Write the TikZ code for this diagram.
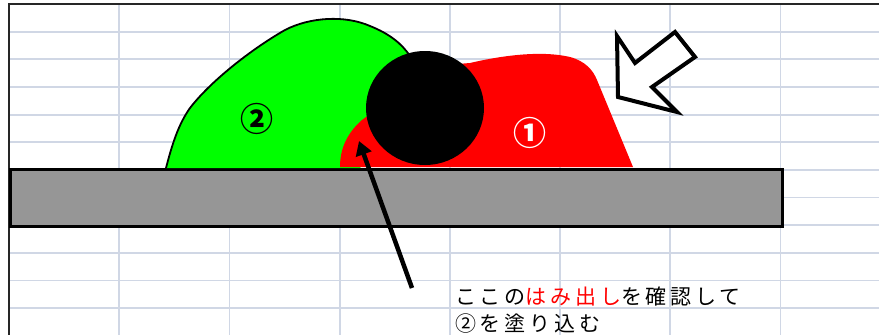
\documentclass[tikz,border=0pt]{standalone}
\usepackage{fontspec}
\newfontfamily\jp[LetterSpace=18]{Noto Sans CJK JP}
\newfontfamily\jpnum{Noto Sans CJK JP}
\usetikzlibrary{arrows.meta}
\definecolor{gridc}{RGB}{208,215,229}
\definecolor{blobgreen}{RGB}{0,255,0}
\definecolor{blobred}{RGB}{255,0,0}
\definecolor{basegray}{RGB}{150,150,150}
\tikzset{
  gridline/.style={draw=gridc, line width=1.8pt},
  frame/.style={draw=black!85, line width=2pt},
  numlabel/.style={font=\jpnum\bfseries\fontsize{33}{36}\selectfont, inner sep=0pt},
  notetext/.style={font=\jp\fontsize{21}{24}\selectfont, inner sep=0pt, anchor=base west},
}
\begin{document}
\begin{tikzpicture}[x=1pt,y=-1pt]
\useasboundingbox (0,0) rectangle (879,335);
\fill[white] (0,0) rectangle (879,335);
% grid
\foreach \i in {1,...,11} {
  \draw[gridline] (9,{4+27.65*\i}) -- (879,{4+27.65*\i});
}
\foreach \i in {1,...,7} {
  \draw[gridline] ({9+110.2*\i},4) -- ({9+110.2*\i},335);
}
\draw[frame] (879,4) -- (9,4) -- (9,335);
% base plate
\node[draw=black, line width=2.5pt, fill=basegray, minimum width=772pt, minimum height=57pt, inner sep=0pt, anchor=north west] (plate) at (9,168) {};
% green blob
\fill[blobgreen] (166,168) .. controls (172,145) and (178,125) .. (190,108)
  .. controls (210,82) and (250,50) .. (285,30)
  .. controls (310,17) and (345,15) .. (370,26)
  .. controls (390,34) and (402,44) .. (410,56)
  -- (425,100) -- (360,168) -- cycle;
\draw[black, line width=1.8pt] (166,168) .. controls (172,145) and (178,125) .. (190,108)
  .. controls (210,82) and (250,50) .. (285,30)
  .. controls (310,17) and (345,15) .. (370,26)
  .. controls (390,34) and (402,44) .. (410,56);
% red blob
\fill[blobred] (340,167) .. controls (340,150) and (346,134) .. (362,120)
  -- (430,70) .. controls (445,66) and (455,64) .. (470,63)
  .. controls (500,56) and (540,50) .. (570,57)
  .. controls (585,61) and (593,70) .. (597,80)
  -- (633,167) -- cycle;
% black ball
\fill[black] (425,108) ellipse [x radius=59, y radius=57];
\node[inner sep=0pt] (ball) at (425,108) {};
% labels
\node[numlabel, text=black] (n2) at (257,119) {②};
\node[numlabel, text=white] (n1) at (530,133) {①};
% pointer arrow
\coordinate (atail) at (412,288);
\coordinate (ahead) at (359,141);
\draw[black, line width=4.5pt, -{Triangle[length=14pt,width=16pt]}] (atail) -- (ahead);
% hollow block arrow
\draw[black, line width=4pt, fill=white, line join=miter]
  (617,36) -- (635,63) -- (675,32) -- (695,57) -- (652,87) -- (677,112) -- (618,97) -- cycle;
% note text
\node[notetext] (t1) at (455,304) {ここの{\color{blobred}はみ出し}を確認して};
\node[notetext] (t2) at (455,331) {②を塗り込む};
\end{tikzpicture}
\end{document}
